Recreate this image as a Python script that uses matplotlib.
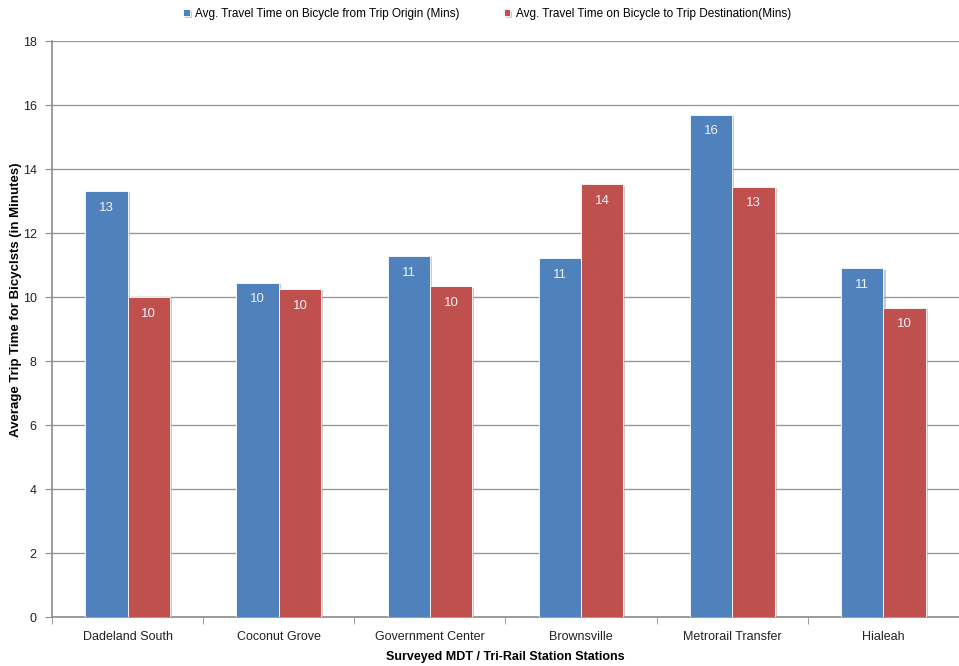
import numpy as np
import matplotlib.pyplot as plt
import matplotlib.patheffects as pe

stations = ["Dadeland South", "Coconut Grove", "Government Center",
            "Brownsville", "Metrorail Transfer", "Hialeah"]
origin = [13.31, 10.44, 11.28, 11.22, 15.69, 10.9]
destination = [10.0, 10.25, 10.34, 13.52, 13.44, 9.66]
series_names = ["Avg. Travel Time on Bicycle from Trip Origin (Mins)",
                "Avg. Travel Time on Bicycle to Trip Destination(Mins)"]

plt.rcParams['font.family'] = ['Liberation Sans', 'DejaVu Sans']

fig = plt.figure(figsize=(9.59, 6.66), dpi=100)
ax = fig.add_axes([52/959, 49/666, (959-52)/959, (617-41)/666])

x = np.arange(len(stations))
w = 0.28
shadow = [pe.SimplePatchShadow(offset=(1.5, -1), shadow_rgbFace='#999999', alpha=0.5), pe.Normal()]
b1 = ax.bar(x - w/2, origin, w, color='#4F81BD', edgecolor='white', linewidth=0.6,
            label=series_names[0], zorder=3, path_effects=shadow)
b2 = ax.bar(x + w/2, destination, w, color='#C0504D', edgecolor='white', linewidth=0.6,
            label=series_names[1], zorder=3, path_effects=shadow)

# rounded value labels just inside the top of each bar
for bars, vals in [(b1, origin), (b2, destination)]:
    for b, v in zip(bars, vals):
        ax.text(b.get_x() + b.get_width()/2, v - 0.33, f"{round(v):.0f}",
                ha='center', va='top', color='#eef2f8', fontsize=9.5, zorder=4)

ax.set_ylim(0, 18)
ax.set_yticks(range(0, 19, 2))
ax.set_xlim(-0.5, 5 + (959-892)/152.5)
ax.grid(axis='y', color='#9a9a9a', linewidth=1)
ax.set_axisbelow(True)

ax.set_xticks(x)
ax.set_xticklabels(stations, fontsize=9, color='#222222')
ax.set_xticks(np.arange(-0.5, 6, 1), minor=True)
ax.tick_params(axis='x', which='major', length=0, pad=10)
ax.tick_params(axis='x', which='minor', length=5, color='#8c8c8c')
ax.tick_params(axis='y', length=5, color='#8c8c8c', labelsize=9, pad=6, labelcolor='#222222')

for s in ['top', 'right']:
    ax.spines[s].set_visible(False)
ax.spines['left'].set_color('#8c8c8c')
ax.spines['bottom'].set_color('#8c8c8c')
ax.spines['left'].set_linewidth(1.2)
ax.spines['bottom'].set_linewidth(1.2)

ax.set_ylabel("Average Trip Time for Bicyclsts (in Minutes)", fontsize=9.5, fontweight='bold')
ax.yaxis.set_label_coords(-30/907, 0.55)
ax.set_xlabel("Surveyed MDT / Tri-Rail Station Stations", fontsize=9, fontweight='bold', labelpad=6)

fig.legend(handles=[b1, b2], labels=series_names, loc='upper center', ncol=2,
           bbox_to_anchor=(0.508, 1.004), frameon=False, fontsize=8.5,
           handlelength=0.55, handleheight=0.55, columnspacing=3.7, handletextpad=0.5)

fig.savefig("out.png", dpi=100)
